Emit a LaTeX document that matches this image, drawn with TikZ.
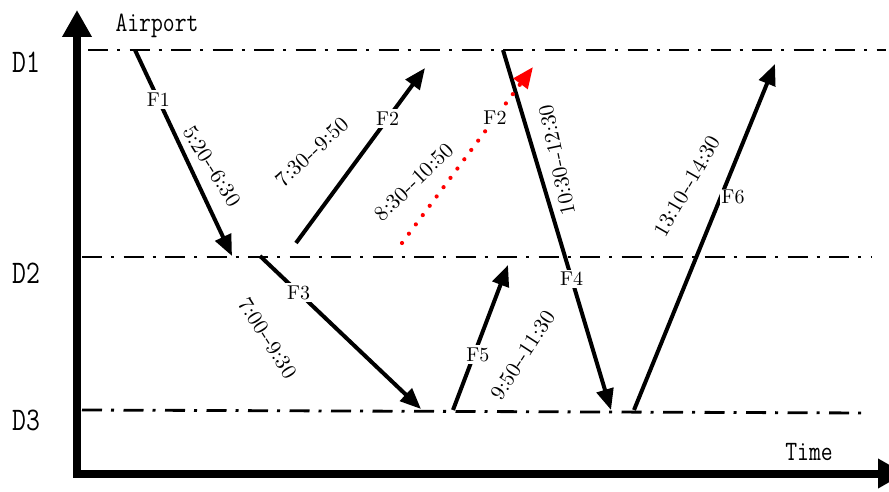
\documentclass[tikz,border=0pt]{standalone}
\usepackage{fontspec}
\usepackage{graphicx}
\newfontfamily\cmten{lmroman10-regular.otf}
\usetikzlibrary{arrows.meta}
\newcommand\tallmono[1]{\scalebox{1}[1.22]{#1}}
\begin{document}
\begin{tikzpicture}[x=1pt,y=-1pt,
  axis/.style={line width=8pt, line join=miter},
  level/.style={line width=2.8pt, dash pattern=on 20pt off 9pt on 3pt off 9.5pt},
  flight/.style={line width=4pt, -{Triangle[length=21pt,width=17pt]}},
  redflight/.style={red, line width=4.2pt, line cap=round, dash pattern=on 0pt off 11.6pt, -{Triangle[length=21pt,width=17pt]}},
  fl/.style={fill=white, text=black, inner sep=2.5pt, font=\cmten\fontsize{20}{22}\selectfont},
  tl/.style={inner sep=0pt, font=\cmten\fontsize{21.5}{23}\selectfont},
  dl/.style={font=\fontsize{27}{30}\selectfont\ttfamily},
  al/.style={font=\fontsize{23}{25}\selectfont\ttfamily}]
\useasboundingbox (0,0) rectangle (889,492);

% axes
\coordinate (ytip) at (77,10);
\coordinate (origin) at (77,473.5);
\coordinate (xtip) at (905,473.5);
\draw[axis, {Triangle[length=27pt,width=28pt]}-{Triangle[length=27pt,width=28pt]}] (ytip) -- (origin) -- (xtip);

% levels
\coordinate (d1a) at (88,50);  \coordinate (d1b) at (886,50);
\coordinate (d2a) at (82,257); \coordinate (d2b) at (872,257);
\coordinate (d3a) at (82,410); \coordinate (d3b) at (868,413);
\draw[level] (d1a) -- (d1b);
\draw[level] (d2a) -- (d2b);
\draw[level] (d3a) -- (d3b);

\node[dl] (D1) at (26,62) {\tallmono{D1}};
\node[dl] (D2) at (26,273) {\tallmono{D2}};
\node[dl] (D3) at (26,420) {\tallmono{D3}};
\node[al] (airport) at (157,26) {\tallmono{Airport}};
\node[al] (time) at (809,452) {\tallmono{Time}};

% flights
\coordinate (f1a) at (135,50);  \coordinate (f1b) at (232,256);
\coordinate (f2a) at (296,243); \coordinate (f2b) at (425,68);
\coordinate (r2a) at (402,243); \coordinate (r2b) at (533,67);
\coordinate (f3a) at (260,256); \coordinate (f3b) at (421,409);
\coordinate (f4a) at (503,50);  \coordinate (f4b) at (611,410);
\coordinate (f5a) at (453,410); \coordinate (f5b) at (508,265);
\coordinate (f6a) at (634,410); \coordinate (f6b) at (775,64);

\draw[flight] (f1a) -- node[fl,pos=0.24] (lf1) {F1} (f1b);
\draw[flight] (f2a) -- node[fl,pos=0.71] (lf2) {F2} (f2b);
\draw[flight] (f3a) -- node[fl,pos=0.24] (lf3) {F3} (f3b);
\draw[flight] (f4a) -- node[fl,pos=0.636] (lf4) {F4} (f4b);
\draw[flight] (f5a) -- node[fl,pos=0.38,xshift=4pt] (lf5) {F5} (f5b);
\draw[flight] (f6a) -- (f6b);
\node[fl,inner sep=1pt] (lf6) at (733,197) {F6};
\draw[redflight] (r2a) -- node[fl,pos=0.71] (lr2) {F2} (r2b);

% time labels
\node[tl,rotate=-58] (t1) at (212,166) {5:20--6:30};
\node[tl,rotate=43]  (t2) at (312,152) {7:30--9:50};
\node[tl,rotate=44]  (t3) at (414,182) {8:30--10:50};
\node[tl,rotate=102] (t4) at (557,160) {10:30--12:30};
\node[tl,rotate=-58] (t5) at (268,338) {7:00--9:30};
\node[tl,rotate=57]  (t6) at (523,355) {9:50--11:30};
\node[tl,rotate=60]  (t7) at (687,186) {13:10--14:30};
\end{tikzpicture}
\end{document}
